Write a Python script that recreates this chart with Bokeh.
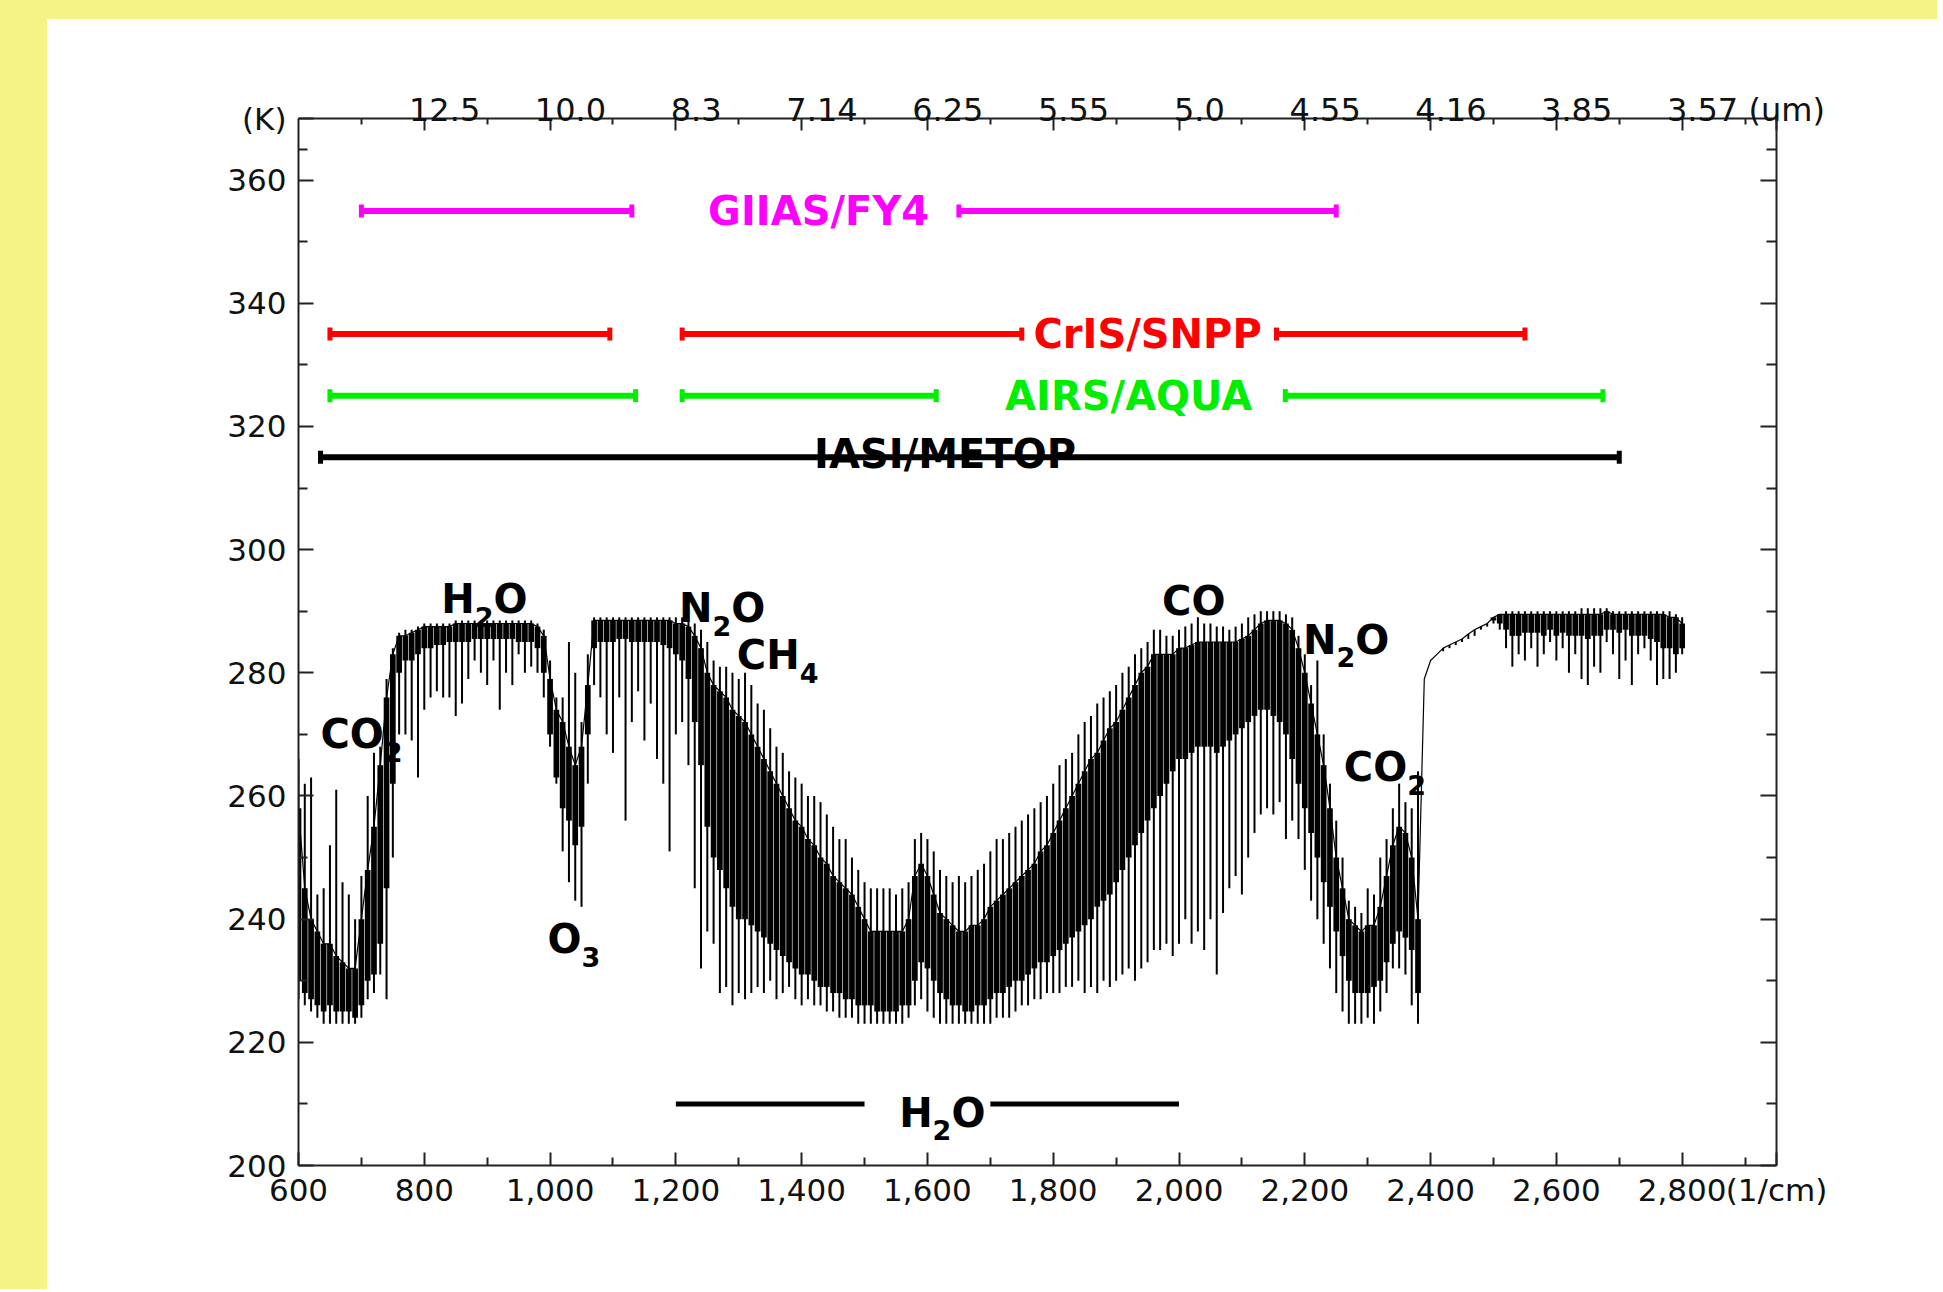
from math import pi
from bokeh.plotting import figure
from bokeh.models import (FixedTicker, NumeralTickFormatter, LinearAxis, Range1d,
                          Label, Spacer)
from bokeh.layouts import column, row
from bokeh.embed import file_html
from bokeh.resources import INLINE

FONT = "DejaVu Sans"

# ---------------- data ----------------
# wavenumber grid (1/cm) and brightness temperatures (K)
wn = list(range(600, 2801, 10))

bt_peak = [
    266, 262, 263, 244, 245, 252, 261, 246, 244, 240,
    247, 260, 267, 268, 279, 284, 286.5, 287, 287, 287.5,
    288, 288, 288, 288, 288, 288.5, 288.5, 288.5, 288.5, 288.5,
    288.5, 288.5, 288.5, 288.5, 288.5, 288.5, 288.5, 288.5, 288, 287,
    282, 276, 276, 285, 280, 272, 283, 289, 289, 289,
    289, 289, 289, 289, 289, 289, 289, 289, 289, 289,
    289, 289, 288.5, 288, 287, 285, 282, 281, 281, 280,
    279, 280, 278, 275, 274, 271, 268, 267, 264, 263,
    262, 260, 260, 259, 257, 255, 253, 253, 250, 248,
    246, 245, 245, 245, 245, 244, 245, 246, 253, 254,
    253, 251, 248, 247, 246, 247, 246, 247, 248, 249,
    251, 253, 253, 254, 255, 256, 257, 258, 259, 260,
    262, 265, 266, 267, 270, 272, 273, 275, 276, 277,
    278, 280, 281, 283, 284, 285, 287, 287, 286, 286,
    287, 287.5, 288, 289, 288, 288, 287.5, 287.5, 287, 287.5,
    288, 289, 289.5, 290, 290, 290, 290, 289.5, 289, 286,
    283, 278, 282, 270, 262, 256, 250, 243, 242, 241,
    245, 244, 250, 253, 258, 262, 259, 258, 264, 279,
    282, 283, 284, 284.5, 285, 285.5, 286.3, 287, 287.5, 288,
    289, 289.5, 290, 290, 290, 290, 290, 290, 290, 290,
    290, 290, 290, 290, 290.5, 290.5, 290.5, 290.5, 290.5, 290,
    290, 290, 290, 290, 290, 290, 290, 290, 290, 289.5,
    289,
]
bt_core_hi = [
    258, 245, 240, 238, 236, 236, 234, 233, 232, 232,
    240, 248, 255, 265, 276, 283, 286, 286, 286.5, 287,
    287.5, 287.5, 287.5, 287.5, 287.5, 288, 288, 288, 288, 288,
    288, 288, 288, 288, 288, 288, 288, 288, 287.5, 286,
    279, 274, 272, 268, 265, 268, 278, 288.5, 288.5, 288.5,
    288.5, 288.5, 288.5, 288.5, 288.5, 288.5, 288.5, 288.5, 288.5, 288.5,
    288, 288, 287.5, 286, 284, 280, 278, 277, 276, 274,
    273, 272, 270, 268, 266, 264, 262, 260, 258, 256,
    255, 253, 252, 250, 249, 247, 246, 245, 244, 242,
    240, 238, 238, 238, 238, 238, 238, 240, 247, 249,
    247, 244, 241, 240, 239, 238, 238, 239, 239, 240,
    242, 243, 244, 245, 246, 247, 248, 249, 251, 252,
    254, 256, 258, 260, 262, 264, 266, 267, 269, 271,
    272, 274, 276, 278, 280, 281, 283, 283, 283, 283,
    284, 284, 284.5, 285, 285, 285, 285, 285, 285, 285,
    285.5, 286, 287, 288, 288.5, 288.5, 288.5, 288, 287, 284,
    280, 275, 270, 265, 258, 250, 245, 240, 239, 238,
    239, 239, 242, 247, 252, 255, 254, 250, 240, 279,
    282, 283, 284, 284.5, 285, 285.5, 286.3, 287, 287.5, 288,
    289, 289.5, 289.5, 289.5, 289.5, 289.5, 289.5, 289.5, 289.5, 289.5,
    289.5, 289.5, 289.5, 289.5, 289.5, 289.5, 289.5, 289.5, 290, 289.5,
    289.5, 289.5, 289.5, 289.5, 289.5, 289.5, 289.5, 289.5, 289, 289,
    288,
]
bt_core_lo = [
    230, 228, 227, 226, 225, 226, 225, 225, 225, 224,
    226, 230, 231, 236, 245, 262, 280, 282, 282, 283,
    284, 284, 284.5, 284.5, 285, 285, 285, 285, 285.5, 285.5,
    285.5, 285.5, 285.5, 285.5, 285.5, 285, 285, 285, 284, 280,
    270, 263, 258, 256, 252, 255, 270, 284, 285, 285,
    285, 285.5, 285.5, 285, 285, 285, 285, 285, 284.5, 284,
    283, 282, 279, 272, 265, 255, 250, 248, 245, 242,
    240, 240, 239, 238, 237, 236, 235, 234, 233, 232,
    231, 231, 230, 229, 229, 228, 228, 227, 227, 226,
    226, 226, 225, 225, 225, 225, 226, 226, 230, 233,
    232, 230, 228, 227, 226, 226, 225, 225, 226, 226,
    227, 228, 228, 229, 230, 230, 231, 232, 233, 233,
    234, 235, 236, 237, 238, 239, 240, 242, 243, 244,
    246, 248, 250, 252, 254, 256, 258, 260, 262, 264,
    266, 266, 267, 268, 268, 268, 267, 268, 269, 270,
    271, 272, 273, 274, 274, 273, 272, 270, 266, 262,
    258, 254, 250, 246, 242, 238, 234, 230, 228, 228,
    228, 229, 230, 233, 236, 238, 237, 235, 228, 279,
    282, 283, 284, 284.5, 285, 285.5, 286.3, 287, 287.5, 288,
    288.5, 288, 287, 286, 286, 286.5, 286.5, 286.5, 286, 287,
    286, 286.5, 286, 286, 286, 285.5, 286, 286, 287, 287,
    286.5, 287, 286, 286, 286, 285.5, 285, 284, 284, 283,
    284,
]
bt_trough = [
    227, 226, 225, 224, 223, 223, 223, 223, 223, 223,
    224, 227, 228, 231, 227, 250, 270, 270, 269, 263,
    274, 276, 277, 276, 276, 273, 275, 279, 282, 280,
    278, 282, 274, 280, 278, 283, 280, 281, 280, 276,
    268, 262, 251, 246, 243, 242, 262, 278, 276, 270,
    267, 276, 256, 272, 277, 269, 275, 266, 262, 251,
    270, 272, 265, 245, 232, 238, 236, 228, 229, 226,
    228, 227, 228, 229, 228, 230, 227, 228, 229, 227,
    226, 227, 226, 226, 225, 225, 224, 224, 224, 223,
    223, 223, 223, 223, 223, 223, 223, 224, 226, 227,
    225, 224, 223, 223, 223, 223, 223, 223, 223, 223,
    223, 224, 224, 224, 225, 226, 226, 227, 227, 228,
    228, 228, 229, 229, 230, 228, 229, 228, 230, 229,
    230, 231, 232, 230, 232, 233, 235, 235, 236, 234,
    236, 240, 236, 238, 235, 240, 231, 241, 245, 247,
    244, 250, 254, 257, 258, 257, 259, 253, 256, 253,
    248, 243, 240, 236, 232, 228, 225, 223, 223, 223,
    224, 223, 225, 228, 232, 232, 231, 226, 223, 279,
    282, 283, 283.5, 284, 284.5, 285, 285.5, 286, 287, 287.5,
    288, 287, 284, 281, 283, 282, 284, 281, 283, 285,
    282, 284, 280, 283, 279, 278, 281, 280, 285, 283,
    279, 282, 278, 283, 284, 282, 278, 279, 279, 280,
    283,
]

X_START, X_END = 600, 2950
Y_START, Y_END = 200, 370

# axes ticks and labels
x_major = [600, 800, 1000, 1200, 1400, 1600, 1800, 2000, 2200, 2400, 2600, 2800]
x_minor = [700, 900, 1100, 1300, 1500, 1700, 1900, 2100, 2300, 2500, 2700, 2900]
y_major = [200, 220, 240, 260, 280, 300, 320, 340, 360]
y_minor = [210, 230, 250, 270, 290, 310, 330, 350, 365]
top_major = [800, 1000, 1200, 1400, 1600, 1800, 2000, 2200, 2400, 2600, 2800]
top_minor = [700, 900, 1100, 1300, 1500, 1700, 1900, 2100, 2300, 2500, 2700, 2900]
top_labels = ["12.5", "10.0", "8.3", "7.14", "6.25", "5.55", "5.0", "4.55", "4.16", "3.85", "3.57"]
x_unit, y_unit, top_unit = "(1/cm)", "(K)", "(um)"

# instrument spectral coverage
inst_names = ["GIIAS/FY4", "CrIS/SNPP", "AIRS/AQUA", "IASI/METOP"]
inst_colors = ["#FF00FF", "#FF0000", "#00EE00", "#000000"]
inst_level = [355, 335, 325, 315]
inst_bands = [
    [(700, 1130), (1650, 2250)],
    [(650, 1095), (1210, 1750), (2155, 2550)],
    [(650, 1136), (1210, 1614), (2169, 2674)],
    [(635, 2700)],
]
inst_label_x = [1427, 1950, 1920, 1628]
inst_label_y = [355, 335, 325, 315.6]
inst_label_baseline = ["middle", "middle", "middle", "alphabetic"]

# water vapour band marker at the bottom
h2o_bands = [(1200, 1500), (1700, 2000)]
h2o_level = 210

# molecule labels (formula, left wavenumber, centre BT); digits are subscripts
mol_text = ["CO2", "H2O", "O3", "N2O", "CH4", "CO", "N2O", "CO2", "H2O"]
mol_x = [635, 827, 996, 1205, 1297, 1973, 2197, 2262, 1555]
mol_y = [270, 292, 236.8, 290.5, 282.9, 291.7, 285.4, 264.7, 208.6]

# ---------------- figure ----------------
p = figure(width=1890, height=1270,
           x_range=Range1d(X_START, X_END), y_range=Range1d(Y_START, Y_END),
           output_backend="svg", toolbar_location=None,
           min_border_left=251, min_border_right=161,
           min_border_top=99, min_border_bottom=124,
           background_fill_color="white", border_fill_color="white",
           outline_line_color=None)
p.xgrid.visible = False
p.ygrid.visible = False

AX_COL = "#222222"
TXT_COL = "#111111"
NBSP = "\u00a0"


def style_axis(ax, maj_in, min_in, size):
    ax.axis_line_color = AX_COL
    ax.axis_line_width = 2
    ax.major_tick_line_color = AX_COL
    ax.minor_tick_line_color = AX_COL
    ax.major_tick_line_width = 2
    ax.minor_tick_line_width = 2
    ax.major_tick_in = maj_in
    ax.major_tick_out = 0
    ax.minor_tick_in = min_in
    ax.minor_tick_out = 0
    ax.major_label_text_font = FONT
    ax.major_label_text_font_size = size
    ax.major_label_text_color = TXT_COL


# bottom axis: wavenumber, unit written at the right end of the axis
xa = p.xaxis[0]
xa.ticker = FixedTicker(ticks=x_major + [X_END], minor_ticks=x_minor)
xa.formatter = NumeralTickFormatter(format="0,0")
xa.major_label_overrides = {X_END: x_unit}
style_axis(xa, 13, 8, "31px")
xa.major_label_standoff = 6

# left axis: brightness temperature, unit written at the top end
ya = p.yaxis[0]
ya.ticker = FixedTicker(ticks=y_major + [Y_END], minor_ticks=y_minor)
ya.major_label_overrides = {Y_END: y_unit}
style_axis(ya, 15, 9, "31px")
ya.major_label_standoff = 12

# right axis: ticks only
ra = LinearAxis(ticker=FixedTicker(ticks=y_major, minor_ticks=y_minor),
                major_label_overrides={t: "" for t in y_major})
style_axis(ra, 16, 10, "31px")
p.add_layout(ra, "right")

# top axis: wavelength labels (set slightly right of their ticks, as in the original)
top_over = {t: NBSP * 4 + s for t, s in zip(top_major, top_labels)}
top_over[X_END] = NBSP * 2 + top_unit
ta = LinearAxis(ticker=FixedTicker(ticks=top_major + [X_END], minor_ticks=top_minor),
                major_label_overrides=top_over)
style_axis(ta, 12, 6, "32px")
ta.major_label_standoff = -10
p.add_layout(ta, "above")

# ---------------- spectrum ----------------
# dense part of the line forest
p.segment(x0=wn, y0=bt_core_lo, x1=wn, y1=bt_core_hi, line_color="black", line_width=5.7)
# individual deep / high lines
p.segment(x0=wn, y0=bt_trough, x1=wn, y1=bt_peak, line_color="black", line_width=2)
p.line(wn, bt_core_hi, line_color="black", line_width=1.2)

# ---------------- instrument bars ----------------
for name, col, lvl, bands, lx, ly, bl in zip(inst_names, inst_colors, inst_level,
                                             inst_bands, inst_label_x, inst_label_y,
                                             inst_label_baseline):
    x0 = [b[0] for b in bands]
    x1 = [b[1] for b in bands]
    p.segment(x0=x0, y0=[lvl] * len(bands), x1=x1, y1=[lvl] * len(bands),
              line_color=col, line_width=6)
    p.scatter(x=x0 + x1, y=[lvl] * (2 * len(bands)), marker="dash", angle=pi / 2,
              size=13, line_color=col, line_width=5)
    p.add_layout(Label(x=lx, y=ly, text=name,
                       text_font=FONT, text_font_style="bold", text_font_size="40px",
                       text_color=col, text_align="center", text_baseline=bl))

hx0 = [b[0] for b in h2o_bands]
hx1 = [b[1] for b in h2o_bands]
p.segment(x0=hx0, y0=[h2o_level] * 2, x1=hx1, y1=[h2o_level] * 2,
          line_color="black", line_width=5)

# ---------------- molecule labels with subscripts ----------------
MAIN_PX, SUB_PX, SUB_DROP = 40, 27, 2.9
ADV = {"H": 0.837, "C": 0.734, "O": 0.850, "N": 0.837, "2": 0.696, "3": 0.696, "4": 0.696}


def split_formula(f):
    parts, cur, cur_sub = [], "", None
    for ch in f:
        s = ch.isdigit()
        if cur and s != cur_sub:
            parts.append((cur, cur_sub))
            cur = ""
        cur += ch
        cur_sub = s
    parts.append((cur, cur_sub))
    return parts


for f, mx, my in zip(mol_text, mol_x, mol_y):
    dx = 0.0
    for txt, sub in split_formula(f):
        px = SUB_PX if sub else MAIN_PX
        p.add_layout(Label(x=mx, y=my - SUB_DROP if sub else my, x_offset=dx, text=txt,
                           text_font=FONT, text_font_style="bold",
                           text_font_size=f"{px}px", text_color="black",
                           text_align="left", text_baseline="middle"))
        dx += sum(ADV[c] for c in txt) * px

# ---------------- page frame ----------------
BG = "#F6F386"
top_strip = Spacer(width=1937, height=19, styles={"background-color": BG})
left_strip = Spacer(width=47, height=1270, styles={"background-color": BG})
layout = column(top_strip, row(left_strip, p, spacing=0), spacing=0)

open("out.html", "w").write(file_html(layout, INLINE))
